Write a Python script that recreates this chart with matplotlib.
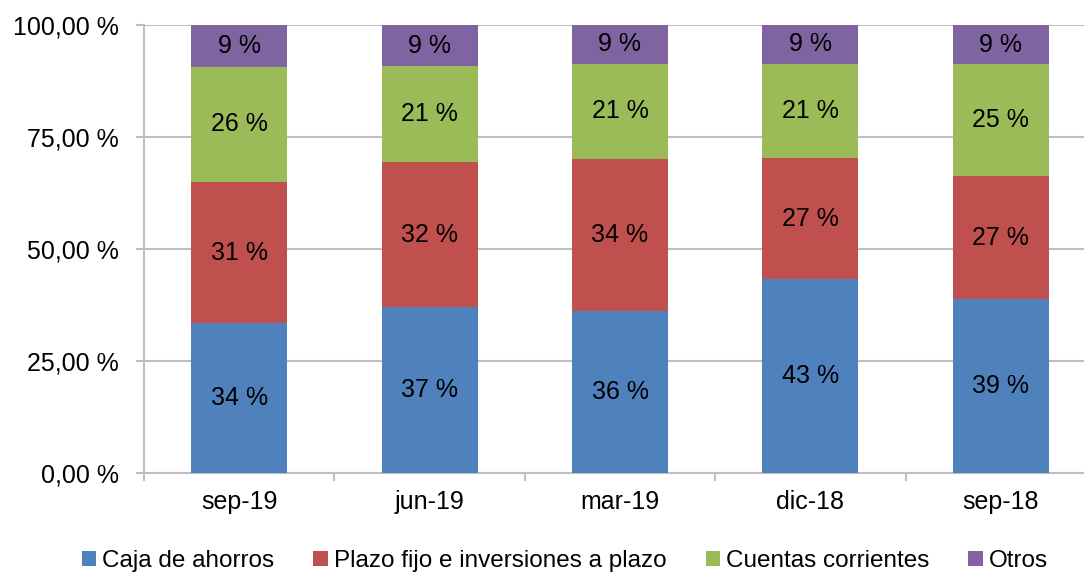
import matplotlib.pyplot as plt
import numpy as np

# periods, left to right
periods = ['sep-19', 'jun-19', 'mar-19', 'dic-18', 'sep-18']

# share of each category (%)
caja = [33.5, 37.0, 36.1, 43.2, 38.8]
plazo = [31.4, 32.4, 34.1, 27.1, 27.4]
cuentas = [25.8, 21.4, 21.2, 21.1, 25.0]
otros = [9.3, 9.2, 8.6, 8.6, 8.8]

series = [
    ('Caja de ahorros', caja, '#4F81BD'),
    ('Plazo fijo e inversiones a plazo', plazo, '#C0504D'),
    ('Cuentas corrientes', cuentas, '#9BBB59'),
    ('Otros', otros, '#8064A2'),
]

yticks = [0, 25, 50, 75, 100]

plt.rcParams['font.family'] = ['Liberation Sans', 'DejaVu Sans']
fs = 18

fig = plt.figure(figsize=(10.84, 5.72), dpi=100)
ax = fig.add_axes([144 / 1084, 1 - 473 / 572, 952 / 1084, 448 / 572])

x = np.arange(len(periods))
bottom = np.zeros(len(periods))
for name, vals, color in series:
    vals = np.array(vals)
    ax.bar(x, vals, width=0.504, bottom=bottom, color=color, label=name,
           zorder=3, edgecolor='none')
    for xi, b, v in zip(x, bottom, vals):
        ax.text(xi, b + v / 2, f'{round(v):d} %', ha='center', va='center',
                fontsize=fs, color='black', zorder=4)
    bottom += vals

ax.set_xlim(-0.5, len(periods) - 0.5)
ax.set_ylim(0, 100)
ax.set_yticks(yticks)
ax.set_yticklabels([f'{v:.2f}'.replace('.', ',') + ' %' for v in yticks],
                   fontsize=fs)
ax.set_xticks(x)
ax.set_xticklabels(periods, fontsize=fs)
ax.set_xticks(np.arange(len(periods) + 1) - 0.5, minor=True)

ax.grid(axis='y', color='#BFBFBF', linewidth=1.5, zorder=0)
for s in ['top', 'right']:
    ax.spines[s].set_visible(False)
for s in ['left', 'bottom']:
    ax.spines[s].set_color('#BFBFBF')
    ax.spines[s].set_linewidth(1.5)

ax.tick_params(axis='y', length=6, width=1.5, color='#BFBFBF', pad=12)
ax.tick_params(axis='x', which='major', length=0, pad=12)
ax.tick_params(axis='x', which='minor', length=6, width=1.5, color='#BFBFBF')

fig.legend(loc='center', bbox_to_anchor=(565 / 1084, 1 - 561 / 572),
           ncol=4, frameon=False, fontsize=17.5, handlelength=0.6,
           handleheight=0.6, handletextpad=0.25, columnspacing=1.6)

fig.savefig('out.png', dpi=100)
